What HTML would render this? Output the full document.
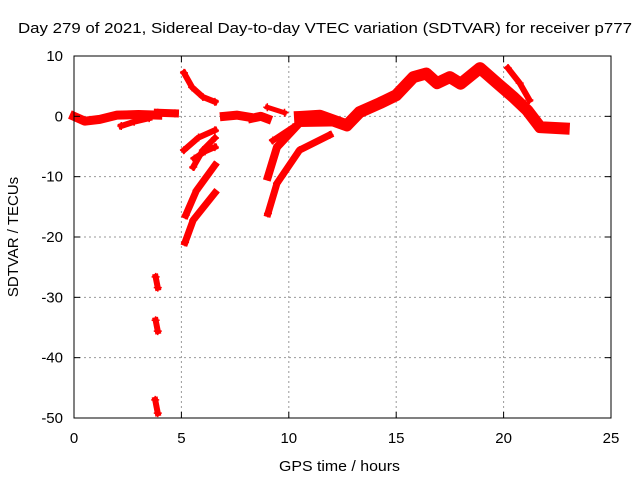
<!DOCTYPE html>
<html><head><meta charset="utf-8"><style>
body{margin:0;background:#fff}
svg{display:block;font-family:"Liberation Sans",sans-serif}
</style></head><body>
<svg id="chart" width="640" height="480" viewBox="0 0 640 480">
<text x="18" y="33" font-size="15" textLength="614" lengthAdjust="spacingAndGlyphs">Day 279 of 2021, Sidereal Day-to-day VTEC variation (SDTVAR) for receiver p777</text>
<g id="grid"></g>
<g id="series"></g>
<rect x="74" y="56" width="537" height="362" fill="none" stroke="#000" stroke-width="1"/>
<g id="axes"></g>
<text x="279" y="471" font-size="15" textLength="121" lengthAdjust="spacingAndGlyphs">GPS time / hours</text>
<text transform="translate(18,237) rotate(-90)" font-size="15" text-anchor="middle">SDTVAR / TECUs</text>
</svg>
<script>
const xTicks=[0,5,10,15,20,25];
const yTicks=[10,0,-10,-20,-30,-40,-50];
// tracks: [hour, tecu] pairs
const trackBase=[[0,0],[0.5,-0.8],[1.2,-0.5],[2,0.2],[3,0.3],[3.9,0.2]];
const trackBaseLow=[[2.2,-1.6],[2.8,-0.9],[3.5,-0.3]];
const trackCluster1=[[3.9,0.6],[4.7,0.5]];
const trackFall=[[5.12,7.2],[5.5,4.8],[6.0,3.2],[6.56,2.4]];
const trackCluster2=[[7.0,0],[7.6,0.2],[8.1,-0.1]];
const trackCluster3=[[8.3,-0.3],[8.7,0],[9.0,-0.4]];
const trackSmall=[[9.0,1.5],[9.8,0.6]];
const trackC1=[[5.12,-5.6],[5.8,-3.5],[6.56,-2.3]];
const trackC2=[[5.55,-8.4],[6.0,-5.6],[6.56,-3.6]];
const trackC3=[[5.6,-7],[6.1,-5.8],[6.56,-5.1]];
const trackC4=[[5.2,-16.4],[5.7,-12.3],[6.56,-8.1]];
const trackC5=[[5.17,-20.9],[5.55,-17.2],[6.56,-12.7]];
const trackD1=[[9.03,-10],[9.45,-5.1],[10.5,-1.1],[12.4,-1.0]];
const trackD2=[[9.26,-4],[10.2,-1.8]];
const trackD3=[[9.03,-16.1],[9.45,-11.1],[10.5,-5.6],[11.9,-3.1]];
const trackMain=[[10.52,-0.1],[11.45,0.1],[12.7,-1.5],[13.3,0.7],[14.25,2.2],[15.0,3.5],[15.8,6.5],[16.4,7.1],[16.9,5.5],[17.5,6.5],[18.0,5.4],[18.9,8.0],[19.8,5.2],[20.45,3.2],[21.1,1.0],[21.7,-1.8],[22.8,-2.0]];
const trackBranch=[[20.2,8],[20.75,5.5],[21.2,2.7]];
const trackLow1=[[3.8,-26.6],[3.9,-28.4]];
const trackLow2=[[3.8,-33.8],[3.9,-35.6]];
const trackLow3=[[3.78,-47],[3.9,-49.2]];
const tracks=[trackBase,trackBaseLow,trackCluster1,trackFall,trackCluster2,trackCluster3,trackSmall,trackC1,trackC2,trackC3,trackC4,trackC5,trackD1,trackD2,trackD3,trackMain,trackBranch,trackLow1,trackLow2,trackLow3];
const widths=[9,6,8,6,9,9,5,6,6,6,7,7,8,6,7,12,6,6,6,6];
const X=h=>74+h*537/25, Y=v=>56+(10-v)*362/60;
const ns="http://www.w3.org/2000/svg";
const grid=document.getElementById('grid'),axes=document.getElementById('axes'),ser=document.getElementById('series');
function mk(tag,attrs,parent){const e=document.createElementNS(ns,tag);for(const k in attrs)e.setAttribute(k,attrs[k]);parent.appendChild(e);return e;}
xTicks.forEach(t=>{
 if(t>0&&t<25){const g=mk('line',{x1:X(t),x2:X(t),y1:56,y2:418,stroke:'#999','stroke-dasharray':'2,3'},grid);
 
 }
 mk('line',{x1:X(t),x2:X(t),y1:418,y2:412,stroke:'#000'},axes);
 mk('line',{x1:X(t),x2:X(t),y1:56,y2:62,stroke:'#000'},axes);
 const l=mk('text',{x:X(t),y:443,'font-size':15,'text-anchor':'middle'},axes);l.textContent=t;
 
 
});
yTicks.forEach(t=>{
 if(t<10&&t>-50){const g=mk('line',{x1:74,x2:611,y1:Y(t),y2:Y(t),stroke:'#999','stroke-dasharray':'2,3'},grid);
 
 }
 mk('line',{x1:74,x2:80,y1:Y(t),y2:Y(t),stroke:'#000'},axes);
 mk('line',{x1:611,x2:605,y1:Y(t),y2:Y(t),stroke:'#000'},axes);
 const l=mk('text',{x:63,y:Y(t)+5,'font-size':15,'text-anchor':'end'},axes);l.textContent=t;
 
 
});
tracks.forEach((tr,i)=>{
 const p=mk('polyline',{points:tr.map(d=>X(d[0])+','+Y(d[1])).join(' '),fill:'none',stroke:'#f00','stroke-width':widths[i],'stroke-linejoin':'round','stroke-linecap':'square'},ser);
 
 
 tr.forEach(d=>{
  const m=mk('path',{d:`M${X(d[0])-4},${Y(d[1])}h8M${X(d[0])},${Y(d[1])-4}v8`,stroke:'#f00','stroke-width':1.5},ser);
  
  
 });
});
</script>
</body></html>
